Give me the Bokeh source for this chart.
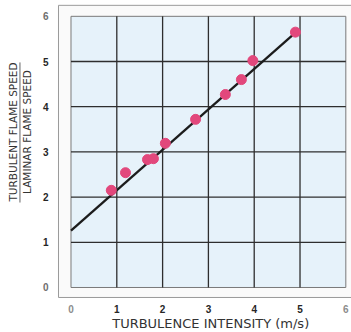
import math
from bokeh.plotting import figure
from bokeh.models import Range1d
from bokeh.core.properties import value
from bokeh.embed import file_html
from bokeh.resources import INLINE

# data
intensity = [0.88, 1.19, 1.67, 1.80, 2.06, 2.72, 3.37, 3.72, 3.97, 4.90]
speed_ratio = [2.15, 2.54, 2.83, 2.85, 3.19, 3.72, 4.27, 4.60, 5.02, 5.65]
fit_x = [0.0, 4.90]
fit_y = [1.26, 5.64]
x_ticks = [0, 1, 2, 3, 4, 5, 6]
y_ticks = [0, 1, 2, 3, 4, 5, 6]
x_tick_labels = ["0", "1", "2", "3", "4", "5", "6"]
y_tick_labels = ["0", "1", "2", "3", "4", "5", "6"]
x_title = "TURBULENCE INTENSITY (m/s)"
y_title_top = "TURBULENT FLAME SPEED"
y_title_bottom = "LAMINAR FLAME SPEED"

p = figure(width=351, height=332, output_backend="svg", toolbar_location=None,
           x_range=Range1d(-1.539, 6.124), y_range=Range1d(-0.996, 6.350),
           min_border=0, x_axis_type=None, y_axis_type=None)
p.outline_line_color = None
p.grid.visible = False
p.background_fill_color = "white"
p.border_fill_color = "white"

x0, x1 = min(x_ticks), max(x_ticks)
y0, y1 = min(y_ticks), max(y_ticks)

# outer grey box
p.quad(left=[x0 - 0.273], right=[x1 + 0.3], bottom=[y0 - 0.221], top=[y1 + 0.243],
       fill_color="#fafafa", line_color="#9a9a9a", line_width=1)
# inner light-blue area
p.quad(left=[x0], right=[x1], bottom=[y0], top=[y1],
       fill_color="#e6f2fa", line_color="#7a7a7a", line_width=1)

# grid lines
inner_x = x_ticks[1:-1]
inner_y = y_ticks[1:-1]
p.segment(x0=inner_x, y0=[y0] * len(inner_x), x1=inner_x, y1=[y1] * len(inner_x),
          line_color="#2e2e2e", line_width=1.3)
p.segment(x0=[x0] * len(inner_y), y0=inner_y, x1=[x1] * len(inner_y), y1=inner_y,
          line_color="#2e2e2e", line_width=1.3)

# fit line and measurements
p.line(fit_x, fit_y, line_color="#1c1c1c", line_width=2.3)
p.scatter(intensity, speed_ratio, size=10, fill_color="#e2487c", line_color="#e2487c")

# tick labels (end labels printed fainter)
def tick_colors(ticks, end_color):
    return [end_color if t in (ticks[0], ticks[-1]) else "#262626" for t in ticks]

tick_kw = dict(text_font=value("Liberation Sans"), text_font_style="bold",
               text_font_size="10px")
p.text(x=x_ticks, y=[y0 - 0.465] * len(x_ticks), text=x_tick_labels,
       text_color=tick_colors(x_ticks, "#8c8c8c"),
       text_align="center", text_baseline="middle", **tick_kw)
p.text(x=[x0 - 0.49] * len(y_ticks), y=y_ticks, text=y_tick_labels,
       text_color=tick_colors(y_ticks, "#6e6e6e"),
       text_align="right", text_baseline="middle", **tick_kw)

# axis titles
p.text(x=[(x0 + x1) / 2 + 0.05], y=[y0 - 0.796], text=[x_title],
       text_align="center", text_baseline="middle",
       text_font=value("DejaVu Sans"), text_font_size="13px", text_color="#333333")
p.text(x=[x0 - 1.266, x0 - 0.950], y=[3.44, 3.44], text=[y_title_top, y_title_bottom],
       angle=math.pi / 2, text_align="center", text_baseline="middle",
       text_font=value("DejaVu Sans"), text_font_size="10.5px", text_color="#333333")
p.segment(x0=[x0 - 1.114], y0=[1.88], x1=[x0 - 1.114], y1=[4.98],
          line_color="#666666", line_width=1)

open("out.html", "w").write(file_html(p, INLINE))
